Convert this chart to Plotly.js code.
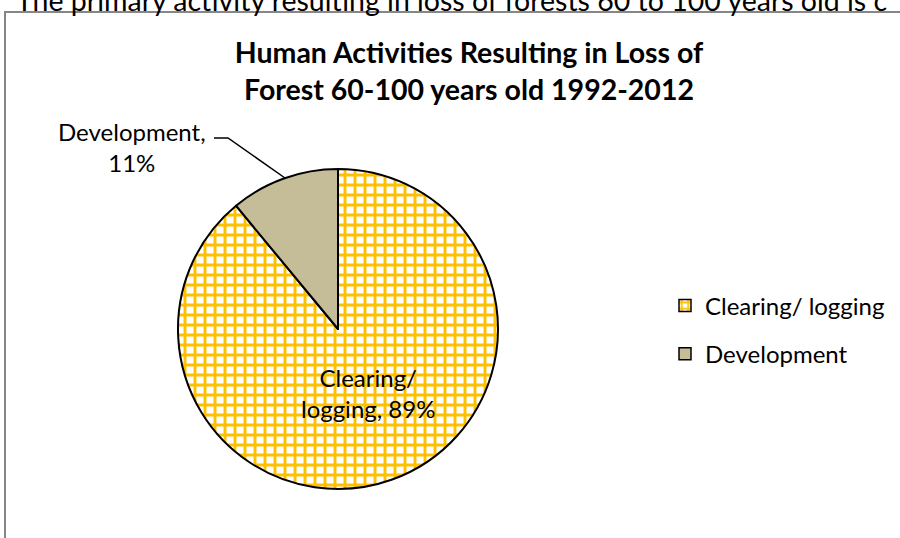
<!DOCTYPE html>
<html>
<head>
<meta charset="utf-8">
<script src="https://cdn.plot.ly/plotly-3.0.1.min.js"></script>
<style>html,body{margin:0;padding:0;background:#fff;} #chart{width:900px;height:538px;}</style>
</head>
<body>
<div id="chart"></div>
<script>
// ---- data ----
const categories = ["Clearing/ logging", "Development"];
const percentValues = [89, 11];
const chartTitle = "Human Activities Resulting in Loss of<br>Forest 60-100 years old 1992-2012";
const pageText = "The primary activity resulting in loss of forests 60 to 100 years old is c";

// ---- styles ----
const FONT = "Lato, Calibri, 'Liberation Sans', sans-serif";
const sliceColors = ["#FFC000", "#C4BD97"];
const patternShapes = ["+", ""];
const patternBg = ["#FFFFFF", "#C4BD97"];

const pie = {
  type: "pie",
  labels: categories,
  values: percentValues,
  sort: false,
  direction: "clockwise",
  rotation: 0,
  textinfo: "none",
  hoverinfo: "label+percent",
  showlegend: false,
  domain: {x: [178/900, 498/900], y: [1 - 489/538, 1 - 169/538]},
  marker: {
    colors: sliceColors,
    line: {color: "#000000", width: 2},
    pattern: {shape: patternShapes, fgcolor: sliceColors, bgcolor: patternBg, size: 10, solidity: 0.5}
  }
};

// legend entries (no data drawn)
const legendTraces = categories.map((c, i) => ({
  type: "bar",
  x: [null], y: [null],
  name: c,
  legendgroup: "g" + i,
  hoverinfo: "skip",
  marker: {
    color: sliceColors[i],
    line: {color: "#000000", width: 1.5},
    pattern: {shape: patternShapes[i], fgcolor: sliceColors[i], bgcolor: patternBg[i], size: 8, solidity: 0.5}
  }
}));

// data label texts built from data
function labelText(i) {
  const t = categories[i] + ", " + percentValues[i] + "%";
  return categories[i].indexOf("/ ") >= 0 ? t.replace("/ ", "/<br>") : t.replace(", ", ",<br>");
}
const labelPos = [[368 / 900, 1 - 393 / 538], [132 / 900, 1 - 147 / 538]];

const annotations = categories.map((c, i) => ({
  xref: "paper", yref: "paper",
  x: labelPos[i][0], y: labelPos[i][1],
  xanchor: "center", yanchor: "middle",
  text: labelText(i),
  showarrow: false,
  align: "center",
  font: {family: FONT, size: 24, color: "#000000"}
}));
annotations.push({
  xref: "paper", yref: "paper",
  x: 14 / 900, y: 1,
  xanchor: "left", yanchor: "middle",
  text: pageText,
  showarrow: false,
  font: {family: FONT, size: 28.5, color: "#000000"}
});

const layout = {
  width: 900, height: 538,
  margin: {l: 0, r: 0, t: 0, b: 0},
  paper_bgcolor: "#FFFFFF",
  plot_bgcolor: "rgba(0,0,0,0)",
  title: {
    text: "<b>" + chartTitle + "</b>",
    x: 469 / 900, xanchor: "center",
    y: 1 - 63 / 538, yanchor: "middle",
    font: {family: FONT, size: 28.5, color: "#000000"}
  },
  xaxis: {visible: false, fixedrange: true},
  yaxis: {visible: false, fixedrange: true},
  showlegend: true,
  legend: {
    x: 665 / 900, xanchor: "left",
    y: 1 - 330 / 538, yanchor: "middle",
    traceorder: "grouped",
    tracegroupgap: 14,
    font: {family: FONT, size: 24, color: "#000000"},
    bgcolor: "rgba(0,0,0,0)"
  },
  shapes: [
    {type: "rect", xref: "paper", yref: "paper", x0: 5 / 900, x1: 1.2, y0: -0.2, y1: 1 - 12 / 538,
     line: {color: "#868686", width: 2}, fillcolor: "rgba(0,0,0,0)"},
    {type: "path", xref: "paper", yref: "paper",
     path: "M " + (214/900) + "," + (1-138/538) + " L " + (228/900) + "," + (1-138/538) + " L " + (285/900) + "," + (1-178/538),
     line: {color: "#000000", width: 1.5}}
  ],
  annotations: annotations
};

Plotly.newPlot("chart", [pie].concat(legendTraces), layout, {displayModeBar: false, staticPlot: true});
</script>
</body>
</html>
